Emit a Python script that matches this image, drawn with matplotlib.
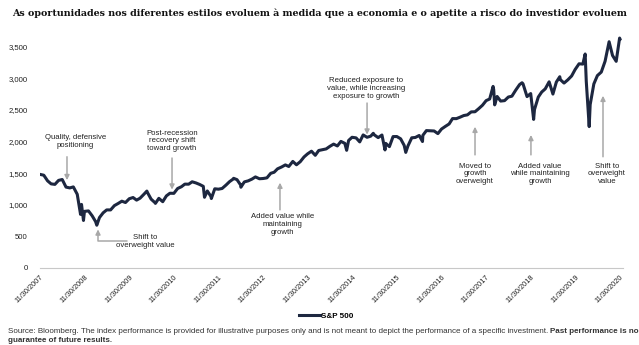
import matplotlib
matplotlib.use("Agg")
import matplotlib.pyplot as plt
import matplotlib.dates as mdates
import pandas as pd

# S&P 500 closes (month ends plus notable intramonth highs/lows)
dates = [
    "2007-11-30", "2007-12-31", "2008-01-31", "2008-02-29", "2008-03-31", "2008-04-30", "2008-05-30",
    "2008-06-30", "2008-07-31", "2008-08-29", "2008-09-30", "2008-10-27", "2008-10-31", "2008-11-04",
    "2008-11-20", "2008-11-28", "2008-12-31", "2009-01-30", "2009-02-27", "2009-03-09", "2009-03-31",
    "2009-04-30", "2009-05-29", "2009-06-30", "2009-07-31", "2009-08-31", "2009-09-30", "2009-10-30",
    "2009-11-30", "2009-12-31", "2010-01-29", "2010-02-26", "2010-03-31", "2010-04-23", "2010-04-30",
    "2010-05-28", "2010-06-30", "2010-07-02", "2010-07-30", "2010-08-31", "2010-09-30", "2010-10-29",
    "2010-11-30", "2010-12-31", "2011-01-31", "2011-02-28", "2011-03-31", "2011-04-29", "2011-05-31",
    "2011-06-30", "2011-07-29", "2011-08-08", "2011-08-31", "2011-09-30", "2011-10-03", "2011-10-31",
    "2011-11-30", "2011-12-30", "2012-01-31", "2012-02-29", "2012-03-30", "2012-04-02", "2012-04-30",
    "2012-05-31", "2012-06-01", "2012-06-29", "2012-07-31", "2012-08-31", "2012-09-28", "2012-10-31",
    "2012-11-30", "2012-12-31", "2013-01-31", "2013-02-28", "2013-03-28", "2013-04-30", "2013-05-31",
    "2013-06-28", "2013-07-31", "2013-08-30", "2013-09-30", "2013-10-31", "2013-11-29", "2013-12-31",
    "2014-01-31", "2014-02-28", "2014-03-31", "2014-04-30", "2014-05-30", "2014-06-30", "2014-07-31",
    "2014-08-29", "2014-09-30", "2014-10-15", "2014-10-31", "2014-11-28", "2014-12-31", "2015-01-30",
    "2015-02-27", "2015-03-31", "2015-04-30", "2015-05-21", "2015-05-29", "2015-06-30", "2015-07-31",
    "2015-08-25", "2015-08-31", "2015-09-30", "2015-10-30", "2015-11-30", "2015-12-31", "2016-01-29",
    "2016-02-11", "2016-02-29", "2016-03-31", "2016-04-29", "2016-05-31", "2016-06-27", "2016-06-30",
    "2016-07-29", "2016-08-31", "2016-09-30", "2016-10-31", "2016-11-30", "2016-12-30", "2017-01-31",
    "2017-02-28", "2017-03-31", "2017-04-28", "2017-05-31", "2017-06-30", "2017-07-31", "2017-08-31",
    "2017-09-29", "2017-10-31", "2017-11-30", "2017-12-29", "2018-01-26", "2018-01-31", "2018-02-08",
    "2018-02-28", "2018-03-29", "2018-04-30", "2018-05-31", "2018-06-29", "2018-07-31", "2018-08-31",
    "2018-09-20", "2018-09-28", "2018-10-31", "2018-11-30", "2018-12-24", "2018-12-31", "2019-01-31",
    "2019-02-28", "2019-03-29", "2019-04-30", "2019-05-31", "2019-06-28", "2019-07-26", "2019-07-31",
    "2019-08-30", "2019-09-30", "2019-10-31", "2019-11-29", "2019-12-31", "2020-01-31", "2020-02-19",
    "2020-02-28", "2020-03-23", "2020-03-31", "2020-04-30", "2020-05-29", "2020-06-30", "2020-07-31",
    "2020-09-02", "2020-09-30", "2020-10-30", "2020-11-27", "2020-11-30",
]
sp500 = [
    1481, 1468, 1379, 1331, 1323, 1386, 1400,
    1280, 1267, 1283, 1166, 848, 969, 1006,
    752, 896, 903, 826, 735, 677, 798,
    873, 919, 919, 987, 1021, 1057, 1036,
    1096, 1115, 1074, 1104, 1169, 1217, 1187,
    1089, 1031, 1022, 1102, 1049, 1141, 1183,
    1181, 1258, 1286, 1327, 1326, 1364, 1345,
    1321, 1292, 1119, 1219, 1131, 1099, 1253,
    1247, 1258, 1312, 1366, 1408, 1419, 1398,
    1310, 1278, 1362, 1379, 1407, 1441, 1412,
    1416, 1426, 1498, 1515, 1569, 1598, 1631,
    1606, 1686, 1633, 1682, 1757, 1806, 1848,
    1783, 1859, 1872, 1884, 1924, 1960, 1931,
    2003, 1972, 1862, 2018, 2068, 2059, 1995,
    2105, 2068, 2086, 2131, 2107, 2063, 2104,
    1868, 1972, 1920, 2079, 2080, 2044, 1940,
    1829, 1932, 2060, 2065, 2097, 2001, 2099,
    2174, 2171, 2168, 2126, 2199, 2239, 2279,
    2364, 2363, 2384, 2412, 2423, 2470, 2472,
    2519, 2575, 2648, 2674, 2873, 2824, 2581,
    2714, 2641, 2648, 2705, 2718, 2816, 2902,
    2931, 2914, 2712, 2760, 2351, 2507, 2704,
    2784, 2834, 2946, 2752, 2942, 3026, 2980,
    2926, 2977, 3038, 3141, 3231, 3226, 3386,
    2954, 2237, 2585, 2912, 3044, 3100, 3271,
    3580, 3363, 3270, 3638, 3622,
]
tick_years = list(range(2007, 2021))

plt.rcParams["font.family"] = ["Liberation Sans", "DejaVu Sans"]

fig = plt.figure(figsize=(6.39, 3.45), dpi=100)
ax = fig.add_axes([0.0626, 0.2232, 0.9124, 0.687])

x = pd.to_datetime(dates)
ax.plot(x, sp500, color="#1d2740", lw=2.2, solid_joinstyle="round", label="S&P 500")

ax.set_xlim(pd.Timestamp("2007-11-30"), pd.Timestamp("2020-12-25"))
ax.set_ylim(0, 3750)
ax.set_yticks([0, 500, 1000, 1500, 2000, 2500, 3000, 3500])
ax.set_yticklabels(["0", "500", "1,000", "1,500", "2,000", "2,500", "3,000", "3,500"], fontsize=5.6)
xt = [pd.Timestamp(f"{yr}-11-30") for yr in tick_years]
ax.set_xticks(xt)
ax.set_xticklabels([f"11/30/{yr}" for yr in tick_years], fontsize=5.3,
                   rotation=45, ha="right", rotation_mode="anchor")
ax.tick_params(axis="both", length=0, colors="#222222")
ax.tick_params(axis="y", pad=9)
ax.tick_params(axis="x", pad=4)
for s in ["top", "right", "left"]:
    ax.spines[s].set_visible(False)
ax.spines["bottom"].set_color("#c8c8c8")
ax.spines["bottom"].set_linewidth(0.8)

arrow_kw = dict(arrowstyle="-|>", color="#a8a8a8", lw=1.1, mutation_scale=7, shrinkA=0, shrinkB=0)
txt_kw = dict(fontsize=5.6, ha="center", va="center", color="#222222", linespacing=1.15)

def ts(s):
    return mdates.date2num(pd.Timestamp(s))

# arrows pointing down to the line
ax.annotate("", xy=(ts("2008-07-08"), 1390), xytext=(ts("2008-07-08"), 1760), arrowprops=arrow_kw)
ax.annotate("", xy=(ts("2010-11-15"), 1240), xytext=(ts("2010-11-15"), 1740), arrowprops=arrow_kw)
ax.annotate("", xy=(ts("2015-03-31"), 2110), xytext=(ts("2015-03-31"), 2610), arrowprops=arrow_kw)
# arrows pointing up to the line
ax.annotate("", xy=(ts("2013-04-17"), 1350), xytext=(ts("2013-04-17"), 920), arrowprops=arrow_kw)
ax.annotate("", xy=(ts("2017-08-31"), 2235), xytext=(ts("2017-08-31"), 1790), arrowprops=arrow_kw)
ax.annotate("", xy=(ts("2018-12-02"), 2105), xytext=(ts("2018-12-02"), 1790), arrowprops=arrow_kw)
ax.annotate("", xy=(ts("2020-07-14"), 2725), xytext=(ts("2020-07-14"), 1760), arrowprops=arrow_kw)
# elbow arrow for the 2009 low
ax.annotate("", xy=(ts("2009-03-19"), 610), xytext=(ts("2009-11-15"), 430),
            arrowprops=dict(connectionstyle="angle,angleA=0,angleB=90,rad=0", **arrow_kw))

ax.text(ts("2008-09-13"), 2000, "Quality, defensive\npositioning", **txt_kw)
ax.text(ts("2010-11-15"), 2010, "Post-recession\nrecovery shift\ntoward growth", **txt_kw)
ax.text(ts("2010-04-11"), 420, "Shift to\noverweight value", **txt_kw)
ax.text(ts("2013-05-07"), 690, "Added value while\nmaintaining\ngrowth", **txt_kw)
ax.text(ts("2015-03-25"), 2840, "Reduced exposure to\nvalue, while increasing\nexposure to growth", **txt_kw)
ax.text(ts("2017-08-31"), 1490, "Moved to\ngrowth\noverweight", **txt_kw)
ax.text(ts("2019-02-15"), 1490, "Added value\nwhile maintaining\ngrowth", **txt_kw)
ax.text(ts("2020-08-16"), 1490, "Shift to\noverweight\nvalue", **txt_kw)

ax.legend(loc="center", bbox_to_anchor=(0.51, 0.083), bbox_transform=fig.transFigure,
          frameon=False, handlelength=2.6, handletextpad=0.1,
          prop=dict(size=5.8, weight="bold"))

# title: shrink font until it spans the same width as the original
title = fig.text(0.5, 0.962, "As oportunidades nos diferentes estilos evoluem à medida que a economia e o apetite a risco do investidor evoluem",
                 ha="center", va="center", fontsize=8, fontweight="bold", family="DejaVu Serif", color="#111111")
fig.canvas.draw()
tw = title.get_window_extent().width
title.set_fontsize(8 * 618 / tw)

src = fig.text(0.012, 0.040, "Source: Bloomberg. The index performance is provided for illustrative purposes only and is not meant to depict the performance of a specific investment. ",
               fontsize=5.75, color="#333333", va="center")
fig.canvas.draw()
bb = src.get_window_extent()
fig.text(bb.x1 / fig.bbox.width, 0.040, "Past performance is no", fontsize=5.75, color="#333333",
         fontweight="bold", va="center")
fig.text(0.012, 0.012, "guarantee of future results.", fontsize=5.75, color="#333333",
         fontweight="bold", va="center")

fig.savefig("out.png", dpi=100)
